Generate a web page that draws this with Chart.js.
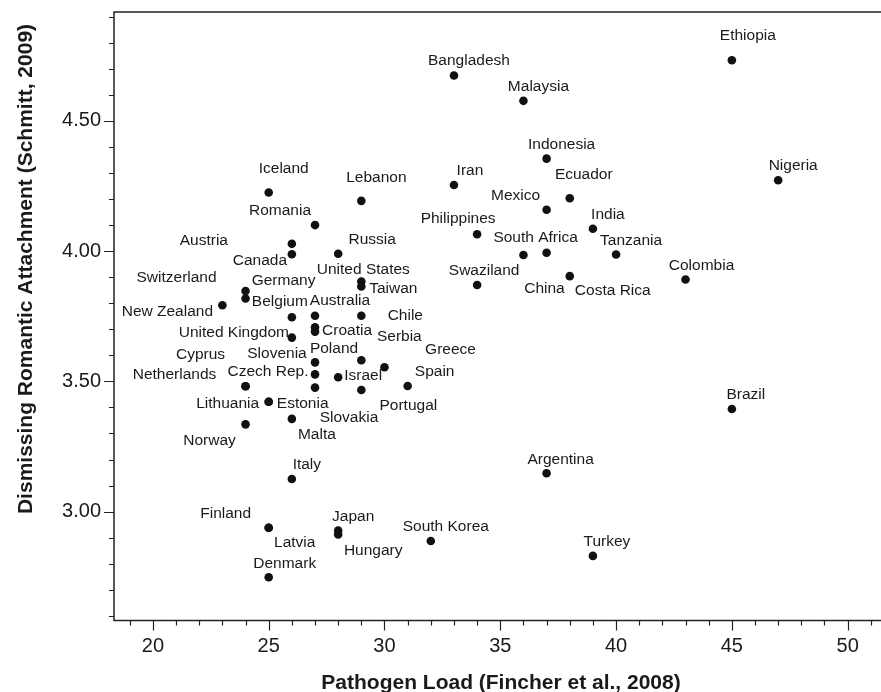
<!DOCTYPE html>
<html lang="en">
<head>
    <meta charset="UTF-8">
    <title>Pathogen Load vs Dismissing Romantic Attachment</title>
    <script src="https://cdn.jsdelivr.net/npm/chart.js@4.4.1/dist/chart.umd.min.js"></script>
    <style>
        * { margin: 0; padding: 0; box-sizing: border-box; }
        body { background: #ffffff; }
        .chart-wrap { position: relative; width: 881px; height: 692px; }
    </style>
</head>
<body>
    <div class="chart-wrap">
        <canvas id="scatterChart"></canvas>
    </div>

    <script>
        // data
        const countries = [
            'Ethiopia', 'Bangladesh', 'Malaysia', 'Indonesia', 'Nigeria', 'Iran', 'Iceland', 'Ecuador',
            'Lebanon', 'Mexico', 'Romania', 'India', 'Philippines', 'Austria', 'Canada', 'Russia',
            'South Africa', 'China', 'Tanzania', 'Costa Rica', 'Colombia', 'United States', 'Taiwan', 'Swaziland',
            'Switzerland', 'Germany', 'New Zealand', 'Belgium', 'Australia', 'Chile', 'Croatia', 'Slovenia',
            'United Kingdom', 'Serbia', 'Poland', 'Greece', 'Czech Rep.', 'Israel', 'Cyprus', 'Netherlands',
            'Spain', 'Slovakia', 'Portugal', 'Lithuania', 'Estonia', 'Malta', 'Norway', 'Brazil',
            'Italy', 'Argentina', 'Finland', 'Latvia', 'Japan', 'Hungary', 'South Korea', 'Turkey', 'Denmark'
        ];
        const pathogenLoad = [
            45, 33, 36, 37, 47, 33, 25, 38,
            29, 37, 27, 39, 34, 26, 26, 28,
            37, 36, 40, 38, 43, 29, 29, 34,
            24, 24, 23, 26, 27, 29, 27, 27,
            26, 29, 27, 30, 27, 28, 24, 24,
            31, 27, 29, 25, 25, 26, 24, 45,
            26, 37, 25, 25, 28, 28, 32, 39, 25
        ];
        const dismissing = [
            4.733, 4.674, 4.577, 4.355, 4.272, 4.254, 4.225, 4.203,
            4.193, 4.159, 4.100, 4.086, 4.065, 4.028, 3.988, 3.990,
            3.994, 3.985, 3.987, 3.904, 3.891, 3.883, 3.864, 3.870,
            3.847, 3.818, 3.792, 3.746, 3.752, 3.752, 3.708, 3.691,
            3.668, 3.581, 3.573, 3.554, 3.527, 3.516, 3.481, 3.481,
            3.482, 3.476, 3.467, 3.422, 3.422, 3.356, 3.335, 3.394,
            3.125, 3.147, 2.938, 2.938, 2.927, 2.912, 2.887, 2.830, 2.748
        ];

        const xTicks = [20, 25, 30, 35, 40, 45, 50];
        const yTicks = [3.0, 3.5, 4.0, 4.5];

        // where each name sits relative to its dot (px)
        const labelDx = [
            16, 15, 15, 15, 15, 16, 15, 14,
            15, -31, -35, 15, -19, -88, -32, 34,
            -11, 21, 15, 43, 16, 2, 32, 7,
            -69, 38, -55, -12, 25, 44, 32, -38,
            -58, 38, 19, 66, -47, 25, -45, -71,
            27, 34, 47, -41, 34, 25, -36, 14,
            15, 14, -43, 26, 15, 35, 15, 14, 16
        ];
        const labelDy = [
            -24, -15, -14, -14, -15, -14, -24, -24,
            -23, -14, -14, -14, -15, -3, 6, -14,
            -15, 34, -14, 15, -14, -12, 2, -14,
            -13, -18, 6, -16, -15, 0, 4, 22,
            -5, -24, -14, -18, -3, -1, -32, -12,
            -14, 30, 16, 2, 2, 16, 16, -14,
            -14, -14, -14, 15, -14, 16, -14, -14, -14
        ];

        const FONT = "'Liberation Sans', Arial, Helvetica, sans-serif";
        const INK = '#1a1a1a';

        // axis frame, minor/major ticks, axis titles and point names
        const decorPlugin = {
            id: 'decor',
            afterDatasetsDraw(chart) {
                const ctx = chart.ctx;
                const meta = chart.getDatasetMeta(0);
                ctx.save();
                ctx.fillStyle = INK;
                ctx.font = '15.5px ' + FONT;
                ctx.textAlign = 'center';
                ctx.textBaseline = 'middle';
                meta.data.forEach((pt, i) => {
                    ctx.fillText(countries[i], pt.x + labelDx[i], pt.y + labelDy[i]);
                });
                ctx.restore();
            },
            afterDraw(chart) {
                const ctx = chart.ctx;
                const a = chart.chartArea;
                const xs = chart.scales.x;
                const ys = chart.scales.y;
                ctx.save();
                ctx.strokeStyle = '#222';
                ctx.lineWidth = 1.5;
                ctx.beginPath();
                ctx.moveTo(a.right, a.top);
                ctx.lineTo(a.left, a.top);
                ctx.lineTo(a.left, a.bottom);
                ctx.lineTo(a.right, a.bottom);
                ctx.stroke();

                ctx.lineWidth = 1.2;
                ctx.beginPath();
                for (let v = 19; v <= 51; v++) {
                    const px = Math.round(xs.getPixelForValue(v)) + 0.5;
                    const len = v % 5 === 0 ? 10 : 5;
                    ctx.moveTo(px, a.bottom);
                    ctx.lineTo(px, a.bottom + len);
                }
                for (let k = 26; k <= 49; k++) {
                    const py = Math.round(ys.getPixelForValue(k / 10)) + 0.5;
                    const len = k % 5 === 0 ? 10 : 5;
                    ctx.moveTo(a.left - len, py);
                    ctx.lineTo(a.left, py);
                }
                ctx.stroke();

                ctx.fillStyle = INK;
                ctx.font = 'bold 21px ' + FONT;
                ctx.textAlign = 'center';
                ctx.textBaseline = 'alphabetic';
                ctx.fillText('Pathogen Load (Fincher et al., 2008)', 501, 689);

                ctx.translate(32, 269);
                ctx.rotate(-Math.PI / 2);
                ctx.fillText('Dismissing Romantic Attachment (Schmitt, 2009)', 0, 0);
                ctx.restore();
            }
        };

        const points = countries.map((c, i) => ({ x: pathogenLoad[i], y: dismissing[i], name: c }));

        new Chart(document.getElementById('scatterChart'), {
            type: 'scatter',
            data: {
                datasets: [{
                    label: 'Countries',
                    data: points,
                    pointRadius: 4.3,
                    pointHoverRadius: 5,
                    pointBackgroundColor: '#111',
                    pointBorderWidth: 0
                }]
            },
            options: {
                responsive: true,
                maintainAspectRatio: false,
                animation: false,
                layout: { autoPadding: false, padding: { top: 12, right: 0, left: 0, bottom: 0 } },
                plugins: {
                    legend: { display: false },
                    tooltip: {
                        callbacks: {
                            label: ctx => `${ctx.raw.name}: ${ctx.raw.x}, ${ctx.raw.y.toFixed(2)}`
                        }
                    }
                },
                scales: {
                    x: {
                        type: 'linear',
                        min: 18.32,
                        max: 51.44,
                        grid: { display: false, drawTicks: false },
                        border: { display: false },
                        afterBuildTicks: s => { s.ticks = xTicks.map(v => ({ value: v })); },
                        afterFit: s => {
                            s.height = 71.5;
                            s.paddingLeft = 0;
                            s.paddingRight = 0;
                        },
                        ticks: {
                            padding: 14,
                            color: INK,
                            font: { family: FONT, size: 20 },
                            maxRotation: 0
                        }
                    },
                    y: {
                        type: 'linear',
                        min: 2.582,
                        max: 4.918,
                        grid: { display: false, drawTicks: false },
                        border: { display: false },
                        afterBuildTicks: s => { s.ticks = yTicks.map(v => ({ value: v })); },
                        afterFit: s => {
                            s.width = 114;
                            s.paddingTop = 0;
                            s.paddingBottom = 0;
                        },
                        ticks: {
                            padding: 13,
                            color: INK,
                            font: { family: FONT, size: 20 },
                            callback: v => Number(v).toFixed(2)
                        }
                    }
                }
            },
            plugins: [decorPlugin]
        });
    </script>
</body>
</html>
